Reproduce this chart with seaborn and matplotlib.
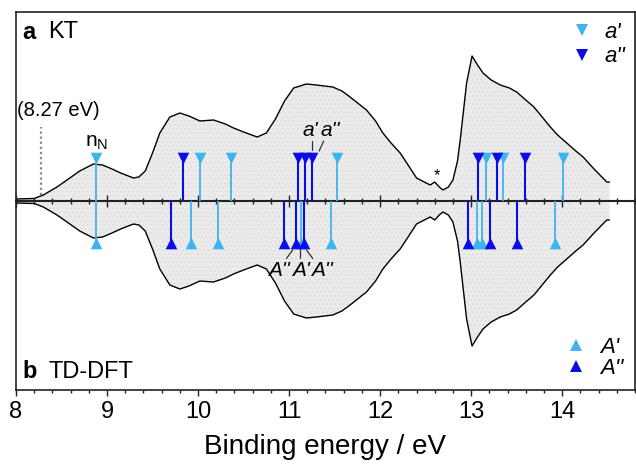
import numpy as np
import seaborn as sns
import matplotlib.pyplot as plt
from matplotlib.lines import Line2D
from matplotlib.ticker import MultipleLocator

# photoelectron spectrum (arb. units), mirrored for the TD-DFT panel
spec_energy = [8.00, 8.20, 8.30, 8.45, 8.56, 8.70, 8.85, 8.95, 9.03, 9.15, 9.29, 9.35,
               9.42, 9.50, 9.58, 9.69, 9.80, 9.90, 10.02, 10.17, 10.30, 10.39, 10.50,
               10.65, 10.75, 10.85, 10.95, 11.05, 11.19, 11.30, 11.48, 11.58, 11.67,
               11.85, 11.95, 12.03, 12.12, 12.22, 12.30, 12.40, 12.55, 12.60, 12.65,
               12.69, 12.75, 12.80, 12.85, 12.88, 12.95, 13.01, 13.07, 13.13, 13.22,
               13.32, 13.42, 13.50, 13.60, 13.69, 13.78, 13.87, 13.95, 14.05, 14.15,
               14.23, 14.35, 14.49, 14.52]
spec_int = [2, 2.5, 6, 14, 21, 30, 37, 36, 33, 28, 23, 24,
            30, 48, 68, 84, 88, 85, 80, 81, 77, 73, 69,
            64, 68, 82, 100, 113, 117, 116, 114, 110, 104,
            91, 80, 68, 58, 48, 37, 23, 16, 19, 14,
            11, 14, 21, 40, 61, 118, 145, 136, 128, 121,
            116, 113, 109, 101, 94, 84, 74, 66, 58, 50,
            44, 32, 19, 19]

# KT ionisation energies
kt_a1 = [8.88, 10.02, 10.36, 11.53, 13.16, 13.35, 14.01]          # a'
kt_a2 = [9.835, 11.10, 11.17, 11.25, 13.08, 13.28, 13.59]         # a''
# TD-DFT states
dft_A1 = [8.88, 9.92, 10.22, 11.13, 11.455, 13.06, 13.12, 13.92]  # A'
dft_A2 = [9.70, 10.94, 11.08, 11.16, 12.97, 13.21, 13.50]         # A''

stick_top = 43
stick_bot = -42
light = '#3cb4ef'
dark = '#0c0ce8'

sns.set_theme(style="ticks")
plt.rcParams['font.family'] = ['Liberation Sans', 'DejaVu Sans']
plt.rcParams['text.color'] = 'black'
plt.rcParams['xtick.color'] = '#222222'
plt.rcParams['xtick.labelcolor'] = 'black'
plt.rcParams['axes.labelcolor'] = 'black'
plt.rcParams['mathtext.fontset'] = 'custom'
plt.rcParams['mathtext.rm'] = 'Liberation Sans'
plt.rcParams['mathtext.it'] = 'Liberation Sans:italic'
plt.rcParams['hatch.linewidth'] = 0.4

fig = plt.figure(figsize=(6.36, 4.71), dpi=100)
ax = fig.add_axes([16 / 636, 81 / 471, 619 / 636, 378 / 471])

# spectrum: filled area + black outline, top and mirrored bottom
e = np.array(spec_energy)
s = np.array(spec_int)
ax.fill_between(e, -s, s, facecolor='#ebebeb', edgecolor='#d6d6d6', hatch='....',
                linewidth=0, zorder=0)
sns.lineplot(x=e, y=s, color='black', lw=1.0, ax=ax, zorder=2)
sns.lineplot(x=e, y=-s, color='black', lw=1.0, ax=ax, zorder=2)

# sticks
ax.vlines(kt_a1, 0, stick_top, color=light, lw=1.3, zorder=3)
ax.vlines(kt_a2, 0, stick_top, color=dark, lw=1.5, zorder=3)
ax.vlines(dft_A1, stick_bot, 0, color=light, lw=1.3, zorder=3)
ax.vlines(dft_A2, stick_bot, 0, color=dark, lw=1.5, zorder=3)
sns.scatterplot(x=kt_a1, y=[stick_top] * len(kt_a1), marker='v', s=70, color=light,
                linewidth=0, ax=ax, zorder=4)
sns.scatterplot(x=kt_a2, y=[stick_top] * len(kt_a2), marker='v', s=70, color=dark,
                linewidth=0, ax=ax, zorder=4)
sns.scatterplot(x=dft_A1, y=[stick_bot] * len(dft_A1), marker='^', s=70, color=light,
                linewidth=0, ax=ax, zorder=4)
sns.scatterplot(x=dft_A2, y=[stick_bot] * len(dft_A2), marker='^', s=70, color=dark,
                linewidth=0, ax=ax, zorder=4)

ax.set_xlim(8, 14.8)
ax.set_ylim(-189, 189)
ax.set_yticks([])
ax.xaxis.set_major_locator(MultipleLocator(1))
ax.xaxis.set_minor_locator(MultipleLocator(0.2))
ax.tick_params(axis='x', which='major', direction='out', length=4, width=1,
               labelsize=17, pad=4)
ax.tick_params(axis='x', which='minor', direction='out', length=2.5, width=1)
for sp in ax.spines.values():
    sp.set_color('#222222')
    sp.set_linewidth(1.2)
ax.set_xlabel('Binding energy / eV', fontsize=20, labelpad=8)

# zero line with crossing ticks
mid = ax.secondary_xaxis(0.5)
mid.xaxis.set_major_locator(MultipleLocator(1))
mid.xaxis.set_minor_locator(MultipleLocator(0.2))
mid.tick_params(which='major', direction='inout', length=9, width=1,
                labelbottom=False, labeltop=False)
mid.tick_params(which='minor', direction='inout', length=5, width=1)
for sp in mid.spines.values():
    sp.set_linewidth(1.5)
    sp.set_color('#222222')

# onset marker
ax.vlines(8.27, 6, 74, color='#888888', lw=1.6, ls=(0, (1, 1.3)), zorder=1)
ax.text(8.46, 91, '(8.27 eV)', ha='center', va='center', fontsize=14.5)
ax.text(8.88, 58, r'n$_{\mathrm{N}}$', ha='center', va='center', fontsize=15)
ax.text(12.62, 25, '*', ha='center', va='center', fontsize=12)

# symmetry labels
ax.text(11.23, 71, "a'", ha='center', va='center', fontsize=15, style='italic')
ax.text(11.45, 71, "a''", ha='center', va='center', fontsize=15, style='italic')
ax.plot([11.25, 11.25], [51, 60], color='#333333', lw=0.9)
ax.plot([11.33, 11.38], [50, 60], color='#333333', lw=0.9)
ax.text(10.89, -69, "A''", ha='center', va='center', fontsize=15, style='italic')
ax.text(11.13, -69, "A'", ha='center', va='center', fontsize=15, style='italic')
ax.text(11.36, -69, "A''", ha='center', va='center', fontsize=15, style='italic')
ax.plot([10.97, 11.04], [-57.5, -49], color='#333333', lw=0.9)
ax.plot([11.125, 11.125], [-57, -47], color='#333333', lw=0.9)
ax.plot([11.19, 11.26], [-49, -57.5], color='#333333', lw=0.9)

# panel labels
ax.text(0.0097, 0.947, 'a', transform=ax.transAxes, fontsize=17, fontweight='bold',
        va='center', ha='left')
ax.text(0.052, 0.947, 'KT', transform=ax.transAxes, fontsize=17, va='center', ha='left')
ax.text(0.0097, 0.048, 'b', transform=ax.transAxes, fontsize=17, fontweight='bold',
        va='center', ha='left')
ax.text(0.052, 0.048, 'TD-DFT', transform=ax.transAxes, fontsize=17, va='center',
        ha='left')

# legends
top_handles = [Line2D([], [], marker='v', ls='', color=light, ms=8.5, mew=0),
               Line2D([], [], marker='v', ls='', color=dark, ms=8.5, mew=0)]
leg1 = ax.legend(top_handles, ["a'", "a''"], loc='upper right', frameon=False,
                 prop={'size': 16, 'style': 'italic'}, handlelength=0.6,
                 handletextpad=0.7, labelspacing=0.15, borderaxespad=0.05)
ax.add_artist(leg1)
bot_handles = [Line2D([], [], marker='^', ls='', color=light, ms=8.5, mew=0),
               Line2D([], [], marker='^', ls='', color=dark, ms=8.5, mew=0)]
ax.legend(bot_handles, ["A'", "A''"], loc='lower right', frameon=False,
          prop={'size': 16, 'style': 'italic'}, handlelength=0.6,
          handletextpad=0.8, labelspacing=0.0, borderaxespad=0.1)

fig.savefig('out.png', dpi=100)
